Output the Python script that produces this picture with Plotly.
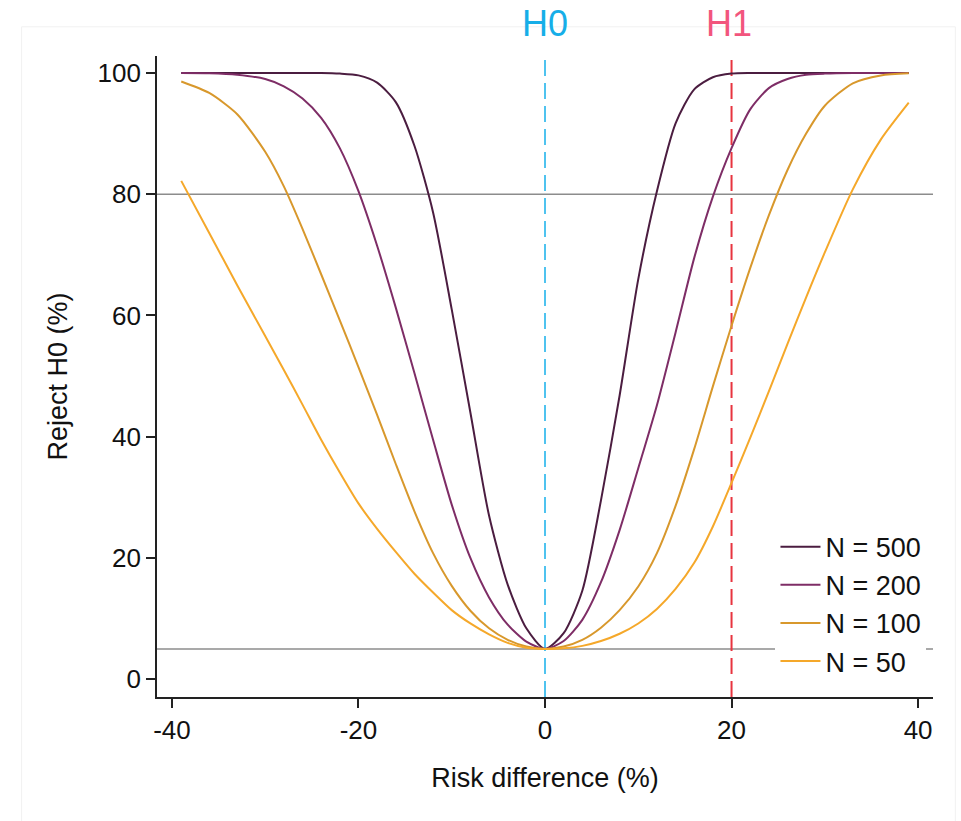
import plotly.graph_objects as go

# Risk difference grid (%)
risk_diff = [-39, -36, -33, -30, -28, -26, -24, -22, -20, -18, -16, -14, -12, -10, -8, -6, -4, -2, 0,
             2, 4, 6, 8, 10, 12, 14, 16, 18, 20, 22, 24, 26, 28, 30, 33, 36, 39]

# Probability of rejecting H0 (%) for each sample size
power_n500 = [100, 100, 100, 100, 100, 100, 100, 99.9, 99.6, 98.4, 95.2, 88, 77, 61, 44, 27, 15.6, 8.4, 5,
              7.6, 14.6, 29.5, 46.8, 66, 80.5, 91.7, 97.3, 99.3, 99.9, 100, 100, 100, 100, 100, 100, 100, 100]
power_n200 = [100, 99.95, 99.7, 99.0, 97.8, 95.8, 92.6, 87.6, 80.5, 71.5, 61.3, 50.5, 39.5, 28.8, 20.0, 13.5, 9.0, 6.2, 5,
              6.3, 9.8, 16.0, 24.6, 34.8, 45.2, 57.2, 69.5, 79.6, 87.6, 94.0, 97.5, 99.0, 99.7, 99.9, 100, 100, 100]
power_n100 = [98.6, 96.7, 93.2, 87.0, 81.3, 74.3, 66.8, 59.2, 51.5, 43.6, 35.5, 27.7, 20.8, 15.4, 11.3, 8.4, 6.5, 5.4, 5,
              5.4, 6.5, 8.5, 11.4, 15.3, 20.8, 28.6, 38.0, 48.3, 58.3, 67.8, 76.5, 84.0, 90.0, 94.6, 98.3, 99.6, 99.95]
power_n50 = [82.2, 73.6, 65.0, 56.6, 51.0, 45.3, 39.5, 34.1, 29.0, 24.8, 21.0, 17.4, 14.3, 11.4, 9.2, 7.4, 6.0, 5.2, 5,
             5.1, 5.5, 6.3, 7.5, 9.2, 11.6, 14.9, 19.2, 25.2, 32.4, 39.8, 47.5, 55.3, 63.0, 70.4, 80.8, 89.0, 95.1]

series_names = ["N = 500", "N = 200", "N = 100", "N = 50"]
series_values = [power_n500, power_n200, power_n100, power_n50]
series_colors = ["#4b1d40", "#7e2d66", "#d8982c", "#f5a82a"]

x_ticks = [-40, -20, 0, 20, 40]
x_tick_labels = ["-40", "-20", "0", "20", "40"]
y_ticks = [0, 20, 40, 60, 80, 100]
y_tick_labels = ["0", "20", "40", "60", "80", "100"]

ref_levels = [80, 5]
h0_value = 0
h1_value = 20

FONT = "Liberation Sans, Arial, Helvetica, sans-serif"

fig = go.Figure()
for i, (name, vals, col) in enumerate(zip(series_names, series_values, series_colors)):
    fig.add_trace(go.Scatter(
        x=risk_diff, y=vals, mode="lines", name=name,
        line=dict(color=col, width=2, shape="spline", smoothing=0.7),
        legendgroup=f"g{i}",
    ))

# reference lines
for lv in ref_levels:
    fig.add_shape(type="line", xref="paper", x0=0, x1=1, yref="y", y0=lv, y1=lv,
                  line=dict(color="#8c8c8c", width=1.5), layer="below")
fig.add_shape(type="line", xref="x", x0=h0_value, x1=h0_value, yref="paper", y0=0, y1=1,
              line=dict(color="#4fc3ef", width=2, dash="16px,7px"), layer="below")
fig.add_shape(type="line", xref="x", x0=h1_value, x1=h1_value, yref="paper", y0=0, y1=1,
              line=dict(color="#e8343f", width=2, dash="16px,7px"), layer="below")

# faint outer frame of graph region
fig.add_shape(type="rect", xref="paper", yref="paper", x0=-0.1745, x1=1.0288, y0=-0.21, y1=1.0455,
              line=dict(color="#f1f1f1", width=1), layer="below")

fig.add_annotation(x=h0_value, xref="x", y=1.05, yref="paper", text="H0", showarrow=False,
                   font=dict(family=FONT, size=36, color="#16aee8"), yanchor="middle")
fig.add_annotation(x=h1_value, xref="x", y=1.05, yref="paper", text="H1", showarrow=False,
                   font=dict(family=FONT, size=36, color="#f2557d"), yanchor="middle", xshift=-3)

fig.update_layout(
    width=961, height=821,
    margin=dict(l=157, r=28, t=56, b=124),
    paper_bgcolor="white", plot_bgcolor="white",
    font=dict(family=FONT, size=26, color="#111"),
    showlegend=True,
    legend=dict(x=0.797, xanchor="left", y=0.272, yanchor="top",
                bgcolor="white", borderwidth=0, tracegroupgap=0, itemwidth=40,
                font=dict(family=FONT, size=27, color="#111")),
    xaxis=dict(range=[-41.6, 41.6], tickvals=x_ticks, ticktext=x_tick_labels,
               showgrid=False, zeroline=False, showline=True, linecolor="#222", linewidth=1.8,
               ticks="outside", ticklen=9, tickwidth=1.5, tickcolor="#222",
               tickfont=dict(family=FONT, size=26, color="#111"),
               title=dict(text="Risk difference (%)", font=dict(family=FONT, size=27, color="#111"), standoff=24)),
    yaxis=dict(range=[-2.93, 102.8], tickvals=y_ticks, ticktext=y_tick_labels,
               showgrid=False, zeroline=False, showline=True, linecolor="#222", linewidth=1.8,
               ticks="outside", ticklen=9, tickwidth=1.5, tickcolor="#222",
               tickfont=dict(family=FONT, size=26, color="#111"),
               title=dict(text="Reject H0 (%)", font=dict(family=FONT, size=27, color="#111"), standoff=22)),
)

fig.write_html("out.html")
